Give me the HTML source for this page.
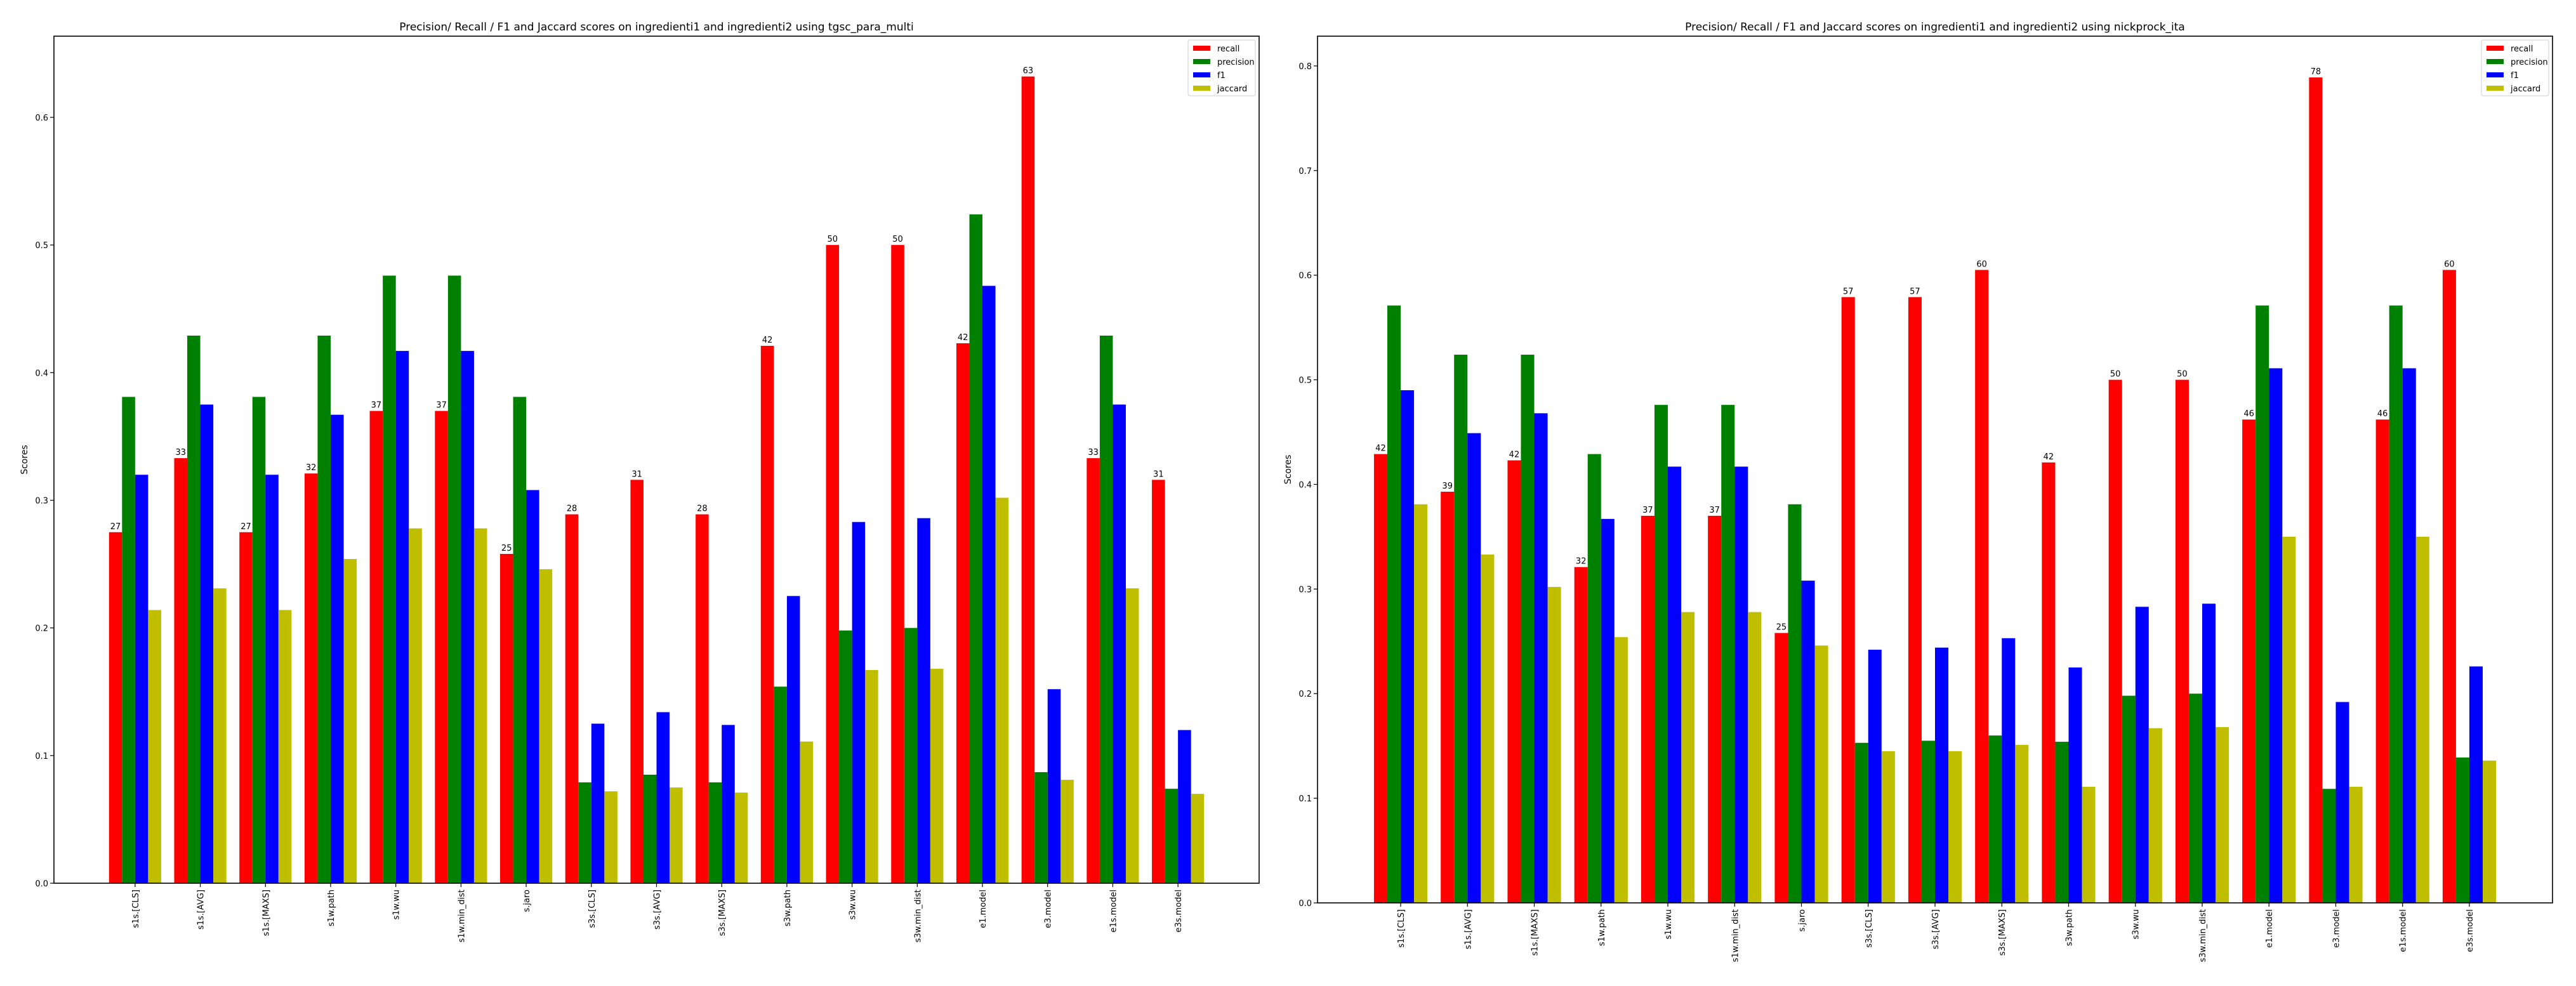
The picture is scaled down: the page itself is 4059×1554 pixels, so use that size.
<!DOCTYPE html>
<html><head><meta charset="utf-8"><style>
html,body{margin:0;padding:0;background:#fff;}
svg{display:block;font-family:"DejaVu Sans","Liberation Sans",sans-serif;}
</style></head><body>
<svg id="chart" width="4059" height="1554" viewBox="0 0 4059 1554" xmlns="http://www.w3.org/2000/svg"></svg>
<script>
const categories = ["s1s.[CLS]","s1s.[AVG]","s1s.[MAXS]","s1w.path","s1w.wu","s1w.min_dist","s.jaro","s3s.[CLS]","s3s.[AVG]","s3s.[MAXS]","s3w.path","s3w.wu","s3w.min_dist","e1.model","e3.model","e1s.model","e3s.model"];
const seriesNames = ["recall","precision","f1","jaccard"];
const seriesColors = ["#ff0000","#008000","#0000ff","#bfbf00"];
const leftRecall    = [0.275,0.333,0.275,0.321,0.370,0.370,0.258,0.289,0.316,0.289,0.421,0.500,0.500,0.423,0.632,0.333,0.316];
const leftPrecision = [0.381,0.429,0.381,0.429,0.476,0.476,0.381,0.079,0.085,0.079,0.154,0.198,0.200,0.524,0.087,0.429,0.074];
const leftF1        = [0.320,0.375,0.320,0.367,0.417,0.417,0.308,0.125,0.134,0.124,0.225,0.283,0.286,0.468,0.152,0.375,0.120];
const leftJaccard   = [0.214,0.231,0.214,0.254,0.278,0.278,0.246,0.072,0.075,0.071,0.111,0.167,0.168,0.302,0.081,0.231,0.070];
const rightRecall    = [0.429,0.393,0.423,0.321,0.370,0.370,0.258,0.579,0.579,0.605,0.421,0.500,0.500,0.462,0.789,0.462,0.605];
const rightPrecision = [0.571,0.524,0.524,0.429,0.476,0.476,0.381,0.153,0.155,0.160,0.154,0.198,0.200,0.571,0.109,0.571,0.139];
const rightF1        = [0.490,0.449,0.468,0.367,0.417,0.417,0.308,0.242,0.244,0.253,0.225,0.283,0.286,0.511,0.192,0.511,0.226];
const rightJaccard   = [0.381,0.333,0.302,0.254,0.278,0.278,0.246,0.145,0.145,0.151,0.111,0.167,0.168,0.350,0.111,0.350,0.136];
const leftTicks = [0.0,0.1,0.2,0.3,0.4,0.5,0.6];
const rightTicks = [0.0,0.1,0.2,0.3,0.4,0.5,0.6,0.7,0.8];

const NS="http://www.w3.org/2000/svg";
const svg=document.getElementById('chart');
function mk(tag,attrs,parent){const e=document.createElementNS(NS,tag);for(const k in attrs)e.setAttribute(k,attrs[k]);(parent||svg).appendChild(e);return e;}

function drawPanel(p){
  const g=mk('g',{});
  
  
  const yMax=Math.max(...p.series.flat())*1.05;
  const y=v=>p.bottom-(v/yMax)*(p.bottom-p.top);
  const n=categories.length;
  const pad=(p.right-p.left)/(n-1+2*1.245);
  const step=pad;
  const x0=p.left+1.245*step;
  const xc=i=>x0+i*step;
  const bw=step*0.2;
  // title
  const t=mk('text',{x:(p.left+p.right)/2,y:48,'text-anchor':'middle','font-size':17,fill:'#000'},g);
  t.textContent=p.title;
  
  
  // bars
  p.series.forEach((vals,s)=>{
    vals.forEach((v,i)=>{
      const r=mk('rect',{x:xc(i)-2*bw+s*bw,y:y(v),width:bw,height:p.bottom-y(v),fill:seriesColors[s]},g);
      
      
    });
  });
  // recall value labels
  p.series[0].forEach((v,i)=>{
    const l=mk('text',{x:xc(i)-1.5*bw,y:y(v)-5,'text-anchor':'middle','font-size':13,fill:'#000'},g);
    l.textContent=Math.floor(v*100+1e-9);
    
    
  });
  // axes frame
  const f=mk('rect',{x:p.left,y:p.top,width:p.right-p.left,height:p.bottom-p.top,fill:'none',stroke:'#000','stroke-width':1.6},g);
  
  
  // y ticks
  p.ticks.forEach(v=>{
    mk('line',{x1:p.left-6,x2:p.left,y1:y(v),y2:y(v),stroke:'#000','stroke-width':1.2},g);
    const l=mk('text',{x:p.left-9,y:y(v)+5,'text-anchor':'end','font-size':13,fill:'#000'},g);
    l.textContent=v.toFixed(1);
    
    
  });
  // x ticks
  categories.forEach((c,i)=>{
    mk('line',{x1:xc(i),x2:xc(i),y1:p.bottom,y2:p.bottom+6,stroke:'#000','stroke-width':1.2},g);
    const l=mk('text',{x:0,y:0,'text-anchor':'end','font-size':13,fill:'#000',transform:`translate(${xc(i)+5},${p.bottom+10}) rotate(-90)`},g);
    l.textContent=c;
    
    
  });
  // y axis title
  const ya=mk('text',{x:0,y:0,'text-anchor':'middle','font-size':14,fill:'#000',transform:`translate(${p.left-42},${(p.top+p.bottom)/2}) rotate(-90)`},g);
  ya.textContent='Scores';
  
  
  // legend
  const lg=mk('g',{},g);
  
  
  const lx=p.right-112, ly=p.top+6;
  mk('rect',{x:lx,y:ly,width:106,height:88,fill:'#fff',stroke:'#ccc','stroke-width':1,rx:3},lg);
  seriesNames.forEach((s,k)=>{
    const e=mk('g',{},lg);
    
    
    mk('rect',{x:lx+8,y:ly+9+k*21,width:27,height:8,fill:seriesColors[k]},e);
    const tx=mk('text',{x:lx+46,y:ly+18+k*21,'font-size':13,fill:'#000'},e);
    tx.textContent=s;
  });
}
drawPanel({name:'left-panel-tgsc',left:85,right:1984,top:57,bottom:1392,ticks:leftTicks,
  title:'Precision/ Recall / F1 and Jaccard scores  on  ingredienti1 and ingredienti2 using tgsc_para_multi',
  series:[leftRecall,leftPrecision,leftF1,leftJaccard]});
drawPanel({name:'right-panel-nickprock',left:2076,right:4022,top:57,bottom:1423,ticks:rightTicks,
  title:'Precision/ Recall / F1 and Jaccard scores  on  ingredienti1 and ingredienti2 using nickprock_ita',
  series:[rightRecall,rightPrecision,rightF1,rightJaccard]});
</script>
</body></html>
